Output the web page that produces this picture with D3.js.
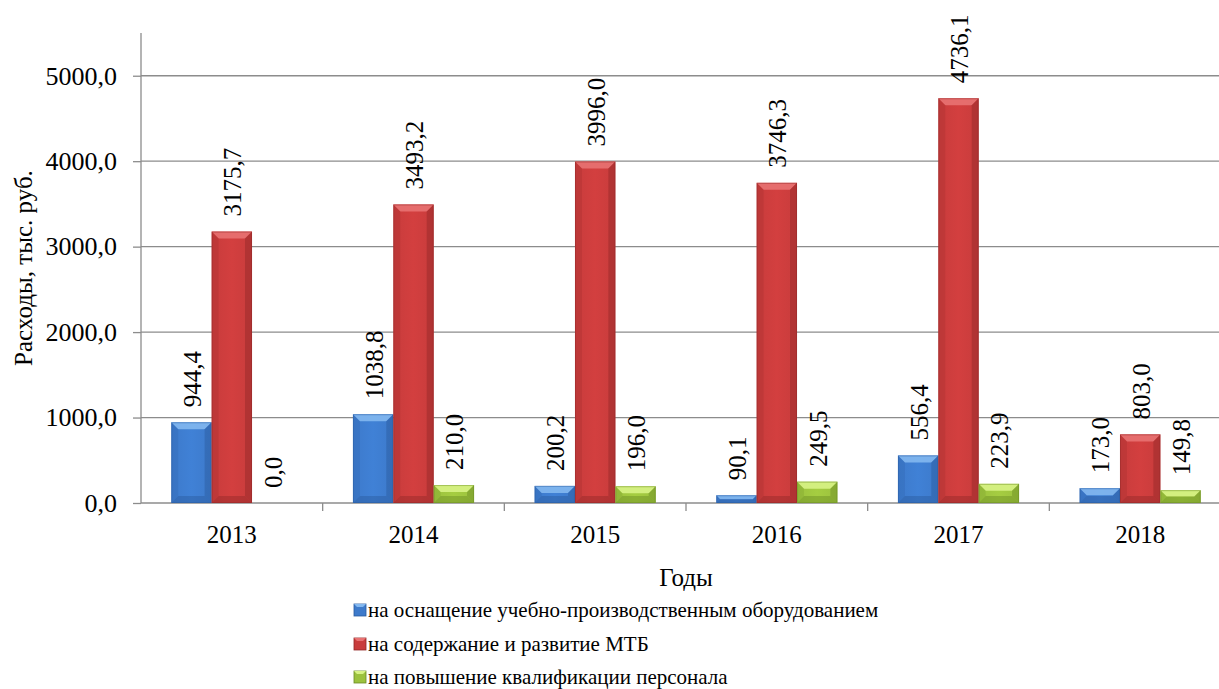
<!DOCTYPE html>
<html>
<head>
<meta charset="utf-8">
<script src="https://cdn.jsdelivr.net/npm/d3@7"></script>
<style>
	html, body { margin: 0; padding: 0; background: #fff; overflow: hidden; }
	svg text { font-family: 'Liberation Serif', 'Times New Roman', serif !important; fill: #000; }
</style>
</head>
<body>
<svg id="chart" width="1219" height="689"></svg>
<script>
// Chart data.
const years = ['2013', '2014', '2015', '2016', '2017', '2018'];
const equipment = [944.4, 1038.8, 200.2, 90.1, 556.4, 173.0];
const mtb = [3175.7, 3493.2, 3996.0, 3746.3, 4736.1, 803.0];
const staff = [0.0, 210.0, 196.0, 249.5, 223.9, 149.8];
const seriesNames = [
	'на оснащение учебно-производственным оборудованием',
	'на содержание и развитие МТБ',
	'на повышение квалификации персонала'
];
const yTicks = [0, 1000, 2000, 3000, 4000, 5000];

const FONT = "'Liberation Serif', 'Times New Roman', serif";

const series = [
	{ key: 'equipment', name: seriesNames[0], values: equipment, base: '#3d7acb', light: '#83b8f0', dark: '#2a5a9e' },
	{ key: 'mtb', name: seriesNames[1], values: mtb, base: '#c83c3c', light: '#e87272', dark: '#922727' },
	{ key: 'staff', name: seriesNames[2], values: staff, base: '#9cc23e', light: '#d8f386', dark: '#6b8b24' }
];

const fmt = v => d3.format('.1f')(v).replace('.', ',');

const svg = d3.select('#chart').style('font-family', FONT);

const plot = { left: 141, right: 1231, top: 33, bottom: 503 };

const x = d3.scaleBand().domain(years).range([plot.left, plot.right]).padding(0);
const xs = d3
	.scaleBand()
	.domain(series.map(s => s.key))
	.range([0, x.bandwidth()])
	.paddingInner(0)
	.paddingOuter(0.75);
const y = d3.scaleLinear().domain([0, 5500]).range([plot.bottom, plot.top]);

// Gridlines.
svg
	.append('g')
	.selectAll('line')
	.data(yTicks.filter(t => t > 0))
	.join('line')
	.attr('x1', plot.left)
	.attr('x2', plot.right)
	.attr('y1', d => y(d))
	.attr('y2', d => y(d))
	.attr('stroke', '#8c8c8c')
	.attr('stroke-width', 1.3);

// Y axis.
const yAxis = svg
	.append('g')
	.attr('transform', `translate(${plot.left},0)`)
	.call(d3.axisLeft(y).tickValues(yTicks).tickFormat(fmt).tickSize(8).tickPadding(16))
	.attr('font-family', FONT);
yAxis.select('.domain').remove();
yAxis.selectAll('.tick line').attr('stroke', '#8c8c8c').attr('stroke-width', 1.3);
yAxis.selectAll('.tick text').attr('font-size', 26).style('font-family', FONT).attr('fill', '#000');
svg
	.append('line')
	.attr('x1', plot.left)
	.attr('x2', plot.left)
	.attr('y1', plot.top)
	.attr('y2', plot.bottom)
	.attr('stroke', '#8c8c8c')
	.attr('stroke-width', 1.3);

// X axis.
svg
	.append('line')
	.attr('x1', plot.left)
	.attr('x2', plot.right)
	.attr('y1', plot.bottom)
	.attr('y2', plot.bottom)
	.attr('stroke', '#8c8c8c')
	.attr('stroke-width', 1.3);
svg
	.append('g')
	.selectAll('line')
	.data(years.slice(1))
	.join('line')
	.attr('x1', d => x(d))
	.attr('x2', d => x(d))
	.attr('y1', plot.bottom)
	.attr('y2', plot.bottom + 8)
	.attr('stroke', '#8c8c8c')
	.attr('stroke-width', 1.3);
svg
	.append('g')
	.selectAll('text')
	.data(years)
	.join('text')
	.attr('x', d => x(d) + x.bandwidth() / 2)
	.attr('y', 543)
	.attr('text-anchor', 'middle')
	.attr('font-size', 25)
	.style('font-family', FONT)
	.text(d => d);

// Axis titles.
svg
	.append('text')
	.attr('transform', `translate(32,${(plot.top + plot.bottom) / 2}) rotate(-90)`)
	.attr('text-anchor', 'middle')
	.attr('font-size', 25)
	.style('font-family', FONT)
	.text('Расходы, тыс. руб.');
svg
	.append('text')
	.attr('x', (plot.left + plot.right) / 2)
	.attr('y', 586)
	.attr('text-anchor', 'middle')
	.attr('font-size', 25)
	.style('font-family', FONT)
	.text('Годы');

// Beveled bar drawing.
function drawBar(g, x0, w, top, bottom, s) {
	const h = bottom - top;
	if (h <= 0) return;
	const b = Math.min(7, h / 2, w / 4);
	const x1 = x0 + w;
	g.append('rect').attr('x', x0).attr('y', top).attr('width', w).attr('height', h).attr('fill', `url(#grad-${s.key})`);
	// top bevel
	g.append('polygon')
		.attr('points', [[x0, top], [x1, top], [x1 - b, top + b], [x0 + b, top + b]].join(' '))
		.attr('fill', s.light)
		.attr('opacity', 0.9);
	// right bevel
	g.append('polygon')
		.attr('points', [[x1, top], [x1 - b, top + b], [x1 - b, bottom - b], [x1, bottom]].join(' '))
		.attr('fill', s.dark)
		.attr('opacity', 0.45);
	// left bevel
	g.append('polygon')
		.attr('points', [[x0, top], [x0 + b, top + b], [x0 + b, bottom - b], [x0, bottom]].join(' '))
		.attr('fill', s.dark)
		.attr('opacity', 0.2);
	// bottom bevel
	g.append('polygon')
		.attr('points', [[x0, bottom], [x0 + b, bottom - b], [x1 - b, bottom - b], [x1, bottom]].join(' '))
		.attr('fill', s.dark)
		.attr('opacity', 0.45);
	g.append('rect')
		.attr('x', x0 + 0.5)
		.attr('y', top + 0.5)
		.attr('width', w - 1)
		.attr('height', h - 1)
		.attr('fill', 'none')
		.attr('stroke', s.dark)
		.attr('stroke-opacity', 0.45);
}

const defs = svg.append('defs');
series.forEach(s => {
	const grad = defs.append('linearGradient').attr('id', `grad-${s.key}`).attr('x1', 0).attr('x2', 1).attr('y1', 0).attr('y2', 0);
	grad.append('stop').attr('offset', 0).attr('stop-color', s.base);
	grad.append('stop').attr('offset', 0.5).attr('stop-color', d3.color(s.base).brighter(0.15));
	grad.append('stop').attr('offset', 1).attr('stop-color', s.base);
});

const barsG = svg.append('g');
series.forEach(s => {
	s.values.forEach((v, i) => {
		drawBar(barsG, x(years[i]) + xs(s.key), xs.bandwidth(), y(v), y(0), s);
	});
});

// Data labels, rotated, outside end.
const labelsG = svg.append('g');
series.forEach(s => {
	s.values.forEach((v, i) => {
		const cx = x(years[i]) + xs(s.key) + xs.bandwidth() / 2;
		labelsG
			.append('text')
			.attr('transform', `translate(${cx + 1},${y(v) - 15}) rotate(-90)`)
			.attr('text-anchor', 'start')
			.attr('dominant-baseline', 'central')
			.attr('font-size', 25)
			.style('font-family', FONT)
			.text(fmt(v));
	});
});

// Legend.
const legend = svg.append('g').attr('transform', 'translate(354,0)');
const legendRows = [610, 644, 677];
series.forEach((s, i) => {
	const row = legend.append('g').attr('transform', `translate(0,${legendRows[i]})`);
	row.append('rect').attr('x', 0).attr('y', -6).attr('width', 12).attr('height', 12).attr('fill', s.base).attr('stroke', s.dark).attr('stroke-width', 0.8);
	row.append('polygon').attr('points', '0,-6 12,-6 9,-3 3,-3').attr('fill', s.light);
	row.append('text').attr('x', 14).attr('y', 7).attr('font-size', 21).style('font-family', FONT).text(s.name);
});
</script>
</body>
</html>
